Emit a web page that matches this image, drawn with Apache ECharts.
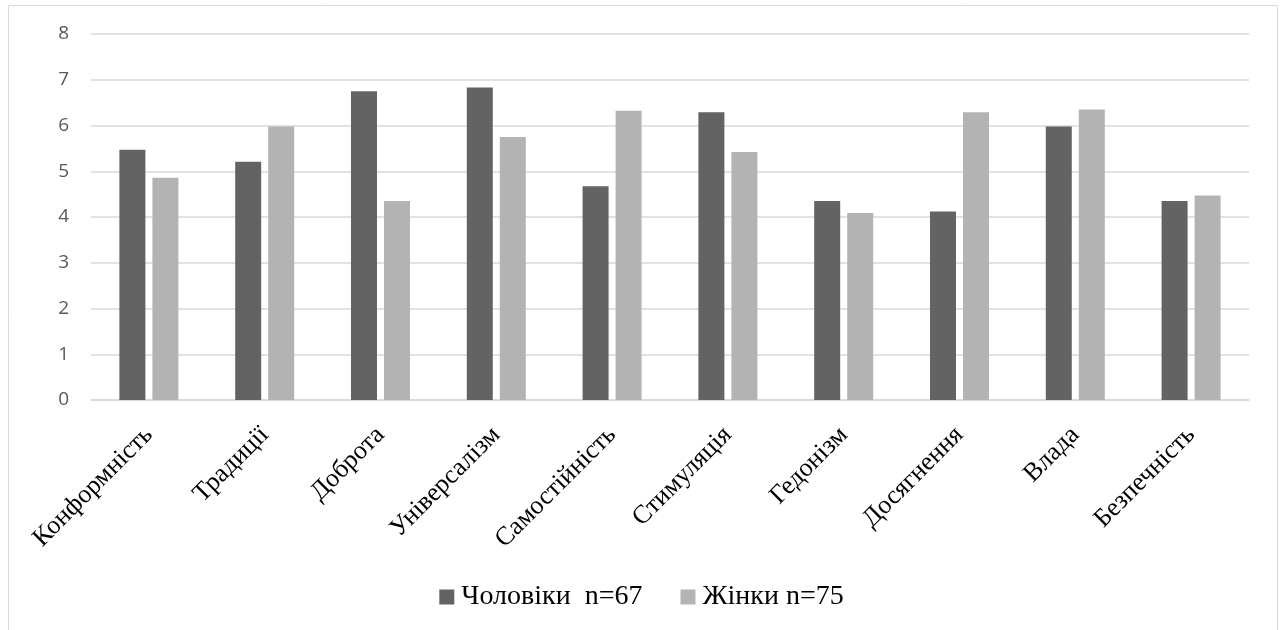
<!DOCTYPE html>
<html>
<head>
<meta charset="utf-8">
<style>
  html, body { margin: 0; padding: 0; background: #ffffff; }
  #chart { width: 1283px; height: 630px; }
</style>
<script src="https://cdn.jsdelivr.net/npm/echarts@6/dist/echarts.min.js"></script>
</head>
<body>
<div id="chart"></div>
<script>
// Value orientations by group
const categories = ['Конформність', 'Традиції', 'Доброта', 'Універсалізм', 'Самостійність',
                    'Стимуляція', 'Гедонізм', 'Досягнення', 'Влада', 'Безпечність'];
const seriesNames = ['Чоловіки  n=67', 'Жінки n=75'];
const men   = [5.47, 5.21, 6.75, 6.83, 4.67, 6.29, 4.35, 4.12, 5.98, 4.35];
const women = [4.86, 5.98, 4.35, 5.75, 6.32, 5.42, 4.09, 6.29, 6.35, 4.47];
const yTicks = { min: 0, max: 8, interval: 1 };

const SERIF = '"Liberation Serif", "Times New Roman", serif';
const SANS = '"Open Sans", "Liberation Sans", sans-serif';

const chart = echarts.init(document.getElementById('chart'), null, { renderer: 'canvas' });

chart.setOption({
  backgroundColor: '#ffffff',
  animation: false,
  graphic: [{
    type: 'rect',
    shape: { x: 8.5, y: 5.5, width: 1269, height: 700 },
    style: { fill: 'none', stroke: '#d9d9d9', lineWidth: 1 },
    silent: true
  }],
  grid: { left: 91, right: 34, top: 34, bottom: 230 },
  legend: {
    data: seriesNames,
    left: 'center',
    top: 578,
    icon: 'rect',
    itemWidth: 15,
    itemHeight: 15,
    itemGap: 38,
    textStyle: { fontFamily: SERIF, fontSize: 28, color: '#000000', padding: [0, 0, 0, 2] }
  },
  xAxis: {
    type: 'category',
    data: categories,
    axisLine: { show: true, lineStyle: { color: '#d9d9d9', width: 1.5 } },
    axisTick: { show: false },
    axisLabel: {
      rotate: 45,
      interval: 0,
      margin: 31,
      fontFamily: SERIF,
      fontSize: 26,
      color: '#000000'
    }
  },
  yAxis: {
    type: 'value',
    min: yTicks.min,
    max: yTicks.max,
    interval: yTicks.interval,
    axisLine: { show: false },
    axisTick: { show: false },
    splitLine: { lineStyle: { color: '#d9d9d9', width: 1.5 } },
    axisLabel: {
      margin: 22,
      fontFamily: SANS,
      fontSize: 19,
      color: '#595959'
    }
  },
  series: [
    {
      name: seriesNames[0],
      type: 'bar',
      data: men,
      barWidth: 26,
      barGap: '27%',
      itemStyle: { color: '#636363' }
    },
    {
      name: seriesNames[1],
      type: 'bar',
      data: women,
      barWidth: 26,
      barGap: '27%',
      itemStyle: { color: '#b3b3b3' }
    }
  ]
});
</script>
</body>
</html>
